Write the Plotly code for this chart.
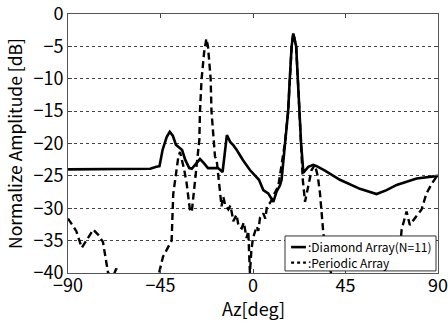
import plotly.graph_objects as go

# Diamond Array (N=11) — solid
az_diamond = [-90, -70, -60, -50, -47, -45.5, -44, -42, -40.5, -39, -37.5, -36.5, -35.5, -34.5,
              -33, -31, -29.8, -28, -25.8, -24, -21.9, -19, -17, -15.5, -14.8, -12.7, -11, -9.5,
              -7.9, -5, -1.5, 2.9, 5, 7.4, 9.9, 11.5, 13.1, 13.9, 15.5, 17.1, 17.9, 18.8, 19.6,
              21.0, 21.8, 22.6, 23.4, 24.5, 26.9, 29.3, 31, 35, 42.3, 52, 60.1, 65, 69.9, 79.6, 89.3, 90]
db_diamond = [-24, -24, -23.9, -23.9, -23.6, -23.5, -21, -19, -18.2, -18.8, -20.2, -20.5, -20.7, -21,
              -22.5, -23.8, -23.9, -23.2, -22.4, -23, -23.8, -23.8, -23.8, -24.2, -24.4, -18.7, -19.8, -20.3,
              -21, -22.5, -24.1, -25.6, -27.2, -27.7, -29, -27.4, -26.5, -25.6, -20, -15, -10, -5, -3.0,
              -5, -10, -15, -20, -24.5, -23.6, -23.3, -23.5, -24.2, -25.6, -27, -27.8, -27.2, -26.4, -25.4, -25.0, -25.0]

# Periodic Array — dashed
az_periodic = [-90, -86, -83.3, -80, -77.7, -75, -73, -70.5, -68, -66.5, -66, -64, -60, -50, -45.7,
               -43.8, -41.5, -39.6, -38.8, -37.1, -36.3, -35.5, -34.5, -33.5, -32.3, -30.7, -29.8,
               -29, -28.2, -27.4, -26.1, -25.8, -25, -23.8, -22.7, -21.9, -20.6, -20.2, -19.3, -18.5,
               -17.7, -16.9, -16.1, -15.3, -14.5, -13.5, -12, -11, -10, -9.6, -8, -7, -5.5, -4.5,
               -3.1, -2.3, -1.5, -0.8, 0, 0.8, 1.8, 2.6, 3.4, 5, 6, 6.8, 8.2, 9.5, 10.5, 12.3, 13.1, 13.9,
               15.5, 17.1, 17.9, 18.8, 19.6, 21.0, 21.8, 22.6, 23.4, 24.2, 25.3, 26.1, 27.2, 28.5, 30.1,
               31.5, 32.6, 34.2, 36, 40, 60, 70, 72.3, 74.7, 76.3, 78, 80, 82, 84.4, 87, 89.3, 90]
db_periodic = [-31.6, -33.5, -36.1, -34.5, -33.3, -34.2, -35.2, -40, -40.5, -39.3, -40.5, -41, -42, -42, -40,
               -37.5, -36, -35, -27.8, -23.6, -22, -21.3, -22.5, -24, -26.1, -30.2, -30.6,
               -28, -25.6, -22.5, -19.4, -15, -10, -6, -3.8, -5, -10, -15, -19.6, -22,
               -22.5, -25.1, -27, -29.7, -28.2, -29.5, -30.2, -29.6, -31.2, -32, -31, -32.8, -33.1, -32.2,
               -34.6, -33.5, -40, -36.5, -34.6, -33.8, -32.8, -33.5, -31.5, -30.8, -31.6, -29.7, -29.2, -28.5, -27.7, -26.6, -25.1, -23.6,
               -20, -15, -10, -5, -3.0, -5, -10, -15, -20, -25.5, -29, -27.7, -26, -24.1, -23.3,
               -25, -27.7, -33.8, -38, -42, -42, -42, -33.3, -30.5, -32.6, -31.8, -31, -30.2, -27.7, -26.2, -25.1, -25.0]

y_ticks = [0, -5, -10, -15, -20, -25, -30, -35, -40]
x_ticks = [-90, -45, 0, 45, 90]
legend_labels = [":Diamond Array(N=11)", ":Periodic Array"]
x_title = "Az[deg]"
y_title = "Normalize Amplitude [dB]"

font_family = "Noto Sans CJK JP, Noto Sans, sans-serif"

fig = go.Figure()
fig.add_trace(go.Scatter(x=az_diamond, y=db_diamond, mode="lines",
                         name=legend_labels[0],
                         line=dict(color="black", width=2.6)))
fig.add_trace(go.Scatter(x=az_periodic, y=db_periodic, mode="lines",
                         name=legend_labels[1],
                         line=dict(color="black", width=2.4, dash="7px,4px")))

# manual legend box (paper coordinates)
lx0, lx1, ly0, ly1 = 0.5865, 0.9946, 0.008, 0.143
rows_y = [0.100, 0.040]
fig.add_shape(type="rect", xref="paper", yref="paper", x0=lx0, x1=lx1, y0=ly0, y1=ly1,
              fillcolor="white", line=dict(color="#333", width=1), layer="above")
fig.add_shape(type="line", xref="paper", yref="paper", x0=0.603, x1=0.643, y0=rows_y[0], y1=rows_y[0],
              line=dict(color="black", width=2.6), layer="above")
fig.add_shape(type="line", xref="paper", yref="paper", x0=0.603, x1=0.643, y0=rows_y[1], y1=rows_y[1],
              line=dict(color="black", width=2.2, dash="dot"), layer="above")
fig.add_annotation(xref="paper", yref="paper", x=0.645, y=(rows_y[0] + rows_y[1]) / 2,
                   text="<br>".join(legend_labels), showarrow=False, align="left",
                   xanchor="left", yanchor="middle", borderpad=0,
                   font=dict(size=12, family=font_family))

# x-axis title as annotation just under the tick labels
fig.add_annotation(xref="paper", yref="paper", x=0.5, y=-0.083, text=x_title,
                   showarrow=False, xanchor="center", yanchor="top", borderpad=0,
                   font=dict(size=18, family=font_family))

fig.update_layout(
    width=448, height=324,
    margin=dict(l=68, r=10, t=14, b=51, autoexpand=False),
    paper_bgcolor="white", plot_bgcolor="white",
    font=dict(family=font_family, color="black"),
    showlegend=False,
)
fig.update_xaxes(range=[-90, 90], tickvals=x_ticks, ticks="inside", ticklen=4,
                 showline=True, linecolor="#555", linewidth=1, mirror="ticks",
                 showgrid=False, zeroline=False, automargin=False,
                 tickfont=dict(size=18), ticklabeloverflow="allow", ticklabelstandoff=-4)
fig.update_yaxes(range=[-40, 0], tickvals=y_ticks, ticks="inside", ticklen=4,
                 showline=True, linecolor="#555", linewidth=1, mirror="ticks",
                 showgrid=True, gridcolor="#444", gridwidth=1, griddash="dot",
                 zeroline=False, automargin=False,
                 tickfont=dict(size=18), ticklabeloverflow="allow",
                 title=dict(text=y_title, font=dict(size=17.5), standoff=6))

fig.write_html("out.html")
